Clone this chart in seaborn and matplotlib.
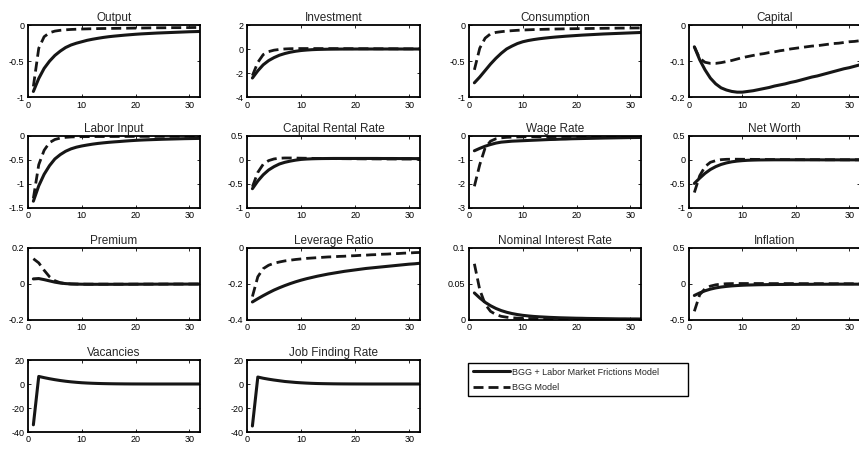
import matplotlib
matplotlib.use("Agg")
import matplotlib.pyplot as plt
import seaborn as sns
from matplotlib.ticker import FuncFormatter

# quarters after the shock
t = list(range(1, 33))

output_lmf = [-0.92, -0.74, -0.60, -0.50, -0.42, -0.36, -0.31, -0.275, -0.25, -0.23, -0.21, -0.195, -0.182, -0.17, -0.16, -0.152,
              -0.145, -0.138, -0.132, -0.126, -0.121, -0.117, -0.113, -0.109, -0.106, -0.103, -0.100, -0.097, -0.094, -0.091, -0.089, -0.087]
output_bgg = [-0.85, -0.32, -0.16, -0.105, -0.082, -0.071, -0.064, -0.059, -0.056, -0.053, -0.051, -0.049, -0.047, -0.046, -0.045, -0.044,
              -0.043, -0.042, -0.041, -0.040, -0.039, -0.038, -0.037, -0.036, -0.036, -0.035, -0.034, -0.034, -0.033, -0.033, -0.032, -0.032]

investment_lmf = [-2.4, -1.8, -1.3, -0.95, -0.70, -0.50, -0.36, -0.25, -0.17, -0.11, -0.07, -0.04, -0.02, -0.01, 0.0, 0.005,
                  0.01, 0.012, 0.014, 0.015, 0.016, 0.016, 0.017, 0.017, 0.017, 0.017, 0.017, 0.017, 0.016, 0.016, 0.016, 0.016]
investment_bgg = [-2.2, -1.1, -0.45, -0.2, -0.08, -0.02, 0.02, 0.04, 0.05, 0.055, 0.055, 0.055, 0.055, 0.05, 0.05, 0.05,
                  0.045, 0.045, 0.045, 0.04, 0.04, 0.04, 0.04, 0.035, 0.035, 0.035, 0.035, 0.03, 0.03, 0.03, 0.03, 0.03]

consumption_lmf = [-0.80, -0.72, -0.63, -0.54, -0.46, -0.39, -0.33, -0.29, -0.255, -0.23, -0.213, -0.2, -0.189, -0.18, -0.172, -0.165,
                   -0.159, -0.153, -0.148, -0.143, -0.138, -0.134, -0.13, -0.126, -0.122, -0.119, -0.116, -0.113, -0.11, -0.107, -0.104, -0.101]
consumption_bgg = [-0.62, -0.32, -0.18, -0.12, -0.10, -0.09, -0.082, -0.076, -0.071, -0.067, -0.064, -0.061, -0.059, -0.057, -0.055, -0.053,
                   -0.052, -0.05, -0.049, -0.048, -0.047, -0.046, -0.045, -0.044, -0.043, -0.042, -0.041, -0.04, -0.04, -0.039, -0.038, -0.038]

capital_lmf = [-0.06, -0.096, -0.124, -0.147, -0.163, -0.174, -0.18, -0.184, -0.186, -0.186, -0.184, -0.182, -0.179, -0.176, -0.173, -0.169,
               -0.166, -0.163, -0.159, -0.156, -0.152, -0.148, -0.144, -0.141, -0.137, -0.133, -0.129, -0.125, -0.121, -0.118, -0.114, -0.11]
capital_bgg = [-0.06, -0.092, -0.103, -0.106, -0.106, -0.104, -0.101, -0.098, -0.094, -0.09, -0.087, -0.084, -0.081, -0.079, -0.076, -0.074,
               -0.071, -0.069, -0.066, -0.064, -0.062, -0.06, -0.058, -0.057, -0.055, -0.053, -0.051, -0.05, -0.048, -0.046, -0.045, -0.043]

labor_lmf = [-1.36, -1.04, -0.80, -0.62, -0.48, -0.39, -0.32, -0.27, -0.235, -0.21, -0.19, -0.172, -0.157, -0.145, -0.134, -0.125,
             -0.117, -0.108, -0.1, -0.093, -0.087, -0.082, -0.078, -0.074, -0.07, -0.067, -0.064, -0.061, -0.058, -0.056, -0.054, -0.052]
labor_bgg = [-1.3, -0.6, -0.3, -0.14, -0.075, -0.045, -0.03, -0.022, -0.018, -0.016, -0.015, -0.014, -0.013, -0.013, -0.012, -0.012,
             -0.011, -0.011, -0.011, -0.01, -0.01, -0.01, -0.01, -0.009, -0.009, -0.009, -0.009, -0.008, -0.008, -0.008, -0.008, -0.008]

rental_lmf = [-0.6, -0.44, -0.31, -0.21, -0.14, -0.085, -0.05, -0.025, -0.005, 0.01, 0.018, 0.023, 0.026, 0.028, 0.029, 0.03,
              0.03, 0.03, 0.03, 0.03, 0.03, 0.03, 0.03, 0.03, 0.029, 0.029, 0.029, 0.028, 0.028, 0.028, 0.027, 0.027]
rental_bgg = [-0.56, -0.26, -0.09, -0.015, 0.02, 0.035, 0.04, 0.04, 0.038, 0.036, 0.034, 0.032, 0.03, 0.029, 0.028, 0.027,
              0.026, 0.025, 0.024, 0.023, 0.022, 0.021, 0.021, 0.02, 0.02, 0.019, 0.019, 0.018, 0.018, 0.018, 0.017, 0.017]

wage_lmf = [-0.62, -0.52, -0.43, -0.36, -0.30, -0.26, -0.24, -0.22, -0.21, -0.2, -0.19, -0.18, -0.17, -0.16, -0.15, -0.145,
            -0.135, -0.13, -0.12, -0.115, -0.11, -0.105, -0.1, -0.095, -0.09, -0.086, -0.082, -0.078, -0.074, -0.07, -0.067, -0.064]
wage_bgg = [-2.1, -1.2, -0.5, -0.22, -0.12, -0.08, -0.06, -0.05, -0.045, -0.04, -0.037, -0.035, -0.033, -0.031, -0.03, -0.028,
            -0.027, -0.026, -0.025, -0.024, -0.023, -0.022, -0.022, -0.021, -0.02, -0.02, -0.019, -0.019, -0.018, -0.018, -0.017, -0.017]

networth_lmf = [-0.49, -0.38, -0.28, -0.2, -0.14, -0.095, -0.063, -0.04, -0.025, -0.015, -0.008, -0.004, -0.001, 0.0, 0.001, 0.002,
                0.002, 0.002, 0.002, 0.002, 0.002, 0.002, 0.002, 0.002, 0.001, 0.001, 0.001, 0.001, 0.001, 0.001, 0.001, 0.001]
networth_bgg = [-0.68, -0.33, -0.14, -0.05, -0.015, 0.005, 0.012, 0.014, 0.014, 0.013, 0.012, 0.011, 0.01, 0.009, 0.008, 0.007,
                0.007, 0.006, 0.006, 0.005, 0.005, 0.004, 0.004, 0.004, 0.003, 0.003, 0.003, 0.003, 0.002, 0.002, 0.002, 0.002]

premium_lmf = [0.028, 0.03, 0.024, 0.017, 0.01, 0.005, 0.002, 0.0, -0.001, -0.0015, -0.002, -0.002, -0.002, -0.002, -0.002, -0.002,
               -0.002, -0.0018, -0.0017, -0.0016, -0.0015, -0.0014, -0.0013, -0.0012, -0.0011, -0.001, -0.001, -0.0009, -0.0009, -0.0008, -0.0008, -0.0007]
premium_bgg = [0.14, 0.117, 0.076, 0.04, 0.018, 0.007, 0.002, 0.0, -0.0005, -0.001, -0.001, -0.001, -0.001, -0.001, -0.001, -0.001,
               -0.001, -0.001, -0.001, -0.0009, -0.0009, -0.0008, -0.0008, -0.0007, -0.0007, -0.0006, -0.0006, -0.0005, -0.0005, -0.0005, -0.0004, -0.0004]

leverage_lmf = [-0.3, -0.282, -0.265, -0.249, -0.234, -0.221, -0.209, -0.198, -0.188, -0.179, -0.171, -0.164, -0.157, -0.151, -0.145, -0.14,
                -0.135, -0.13, -0.126, -0.122, -0.118, -0.114, -0.111, -0.108, -0.105, -0.102, -0.099, -0.096, -0.093, -0.09, -0.088, -0.085]
leverage_bgg = [-0.27, -0.16, -0.115, -0.096, -0.085, -0.078, -0.072, -0.068, -0.064, -0.061, -0.058, -0.056, -0.054, -0.052, -0.05, -0.049,
                -0.047, -0.046, -0.044, -0.043, -0.041, -0.04, -0.038, -0.037, -0.035, -0.034, -0.032, -0.031, -0.029, -0.028, -0.026, -0.025]

nominal_lmf = [0.0375, 0.0306, 0.0245, 0.0198, 0.016, 0.013, 0.0107, 0.0089, 0.0075, 0.0064, 0.0056, 0.0049, 0.0044, 0.004, 0.0036, 0.0033,
               0.003, 0.0028, 0.0026, 0.0024, 0.0023, 0.0021, 0.002, 0.0019, 0.0018, 0.0017, 0.0016, 0.0015, 0.0015, 0.0014, 0.0014, 0.0013]
nominal_bgg = [0.078, 0.042, 0.022, 0.012, 0.0075, 0.005, 0.0038, 0.003, 0.0025, 0.0022, 0.002, 0.0018, 0.0016, 0.0015, 0.0014, 0.0013,
               0.0012, 0.0011, 0.0011, 0.001, 0.001, 0.0009, 0.0009, 0.0009, 0.0008, 0.0008, 0.0008, 0.0007, 0.0007, 0.0007, 0.0007, 0.0006]

inflation_lmf = [-0.16, -0.125, -0.095, -0.072, -0.055, -0.043, -0.034, -0.027, -0.022, -0.018, -0.015, -0.013, -0.011, -0.01, -0.009, -0.008,
                 -0.007, -0.007, -0.006, -0.006, -0.005, -0.005, -0.005, -0.004, -0.004, -0.004, -0.004, -0.003, -0.003, -0.003, -0.003, -0.003]
inflation_bgg = [-0.38, -0.15, -0.065, -0.03, -0.012, -0.002, 0.003, 0.005, 0.006, 0.006, 0.006, 0.006, 0.006, 0.006, 0.005, 0.005,
                 0.005, 0.005, 0.005, 0.005, 0.004, 0.004, 0.004, 0.004, 0.004, 0.004, 0.003, 0.003, 0.003, 0.003, 0.003, 0.003]

vacancies_lmf = [-34, 6.3, 5.3, 4.4, 3.6, 2.9, 2.3, 1.8, 1.4, 1.05, 0.8, 0.6, 0.45, 0.33, 0.24, 0.17,
                 0.12, 0.08, 0.05, 0.03, 0.02, 0.01, 0.0, 0.0, 0.0, 0.0, 0.0, 0.0, 0.0, 0.0, 0.0, 0.0]
jobfinding_lmf = [-35, 5.8, 4.8, 4.0, 3.3, 2.7, 2.1, 1.7, 1.3, 1.0, 0.75, 0.55, 0.4, 0.3, 0.22, 0.15,
                  0.1, 0.07, 0.05, 0.03, 0.02, 0.01, 0.0, 0.0, 0.0, 0.0, 0.0, 0.0, 0.0, 0.0, 0.0, 0.0]

titles = ["Output", "Investment", "Consumption", "Capital",
          "Labor Input", "Capital Rental Rate", "Wage Rate", "Net Worth",
          "Premium", "Leverage Ratio", "Nominal Interest Rate", "Inflation",
          "Vacancies", "Job Finding Rate"]
series_lmf = [output_lmf, investment_lmf, consumption_lmf, capital_lmf,
              labor_lmf, rental_lmf, wage_lmf, networth_lmf,
              premium_lmf, leverage_lmf, nominal_lmf, inflation_lmf,
              vacancies_lmf, jobfinding_lmf]
series_bgg = [output_bgg, investment_bgg, consumption_bgg, capital_bgg,
              labor_bgg, rental_bgg, wage_bgg, networth_bgg,
              premium_bgg, leverage_bgg, nominal_bgg, inflation_bgg,
              None, None]
y_ticks = [[-1, -0.5, 0], [-4, -2, 0, 2], [-1, -0.5, 0], [-0.2, -0.1, 0],
           [-1.5, -1, -0.5, 0], [-1, -0.5, 0, 0.5], [-3, -2, -1, 0], [-1, -0.5, 0, 0.5],
           [-0.2, 0, 0.2], [-0.4, -0.2, 0], [0, 0.05, 0.1], [-0.5, 0, 0.5],
           [-40, -20, 0, 20], [-40, -20, 0, 20]]
legend_labels = ["BGG + Labor Market Frictions Model", "BGG Model"]

sns.set_style("ticks")
plt.rcParams['font.family'] = ['Liberation Sans', 'DejaVu Sans']
plt.rcParams['axes.unicode_minus'] = False

line_color = "#161616"
fig = plt.figure(figsize=(8.59, 4.5), dpi=100)

col_left = [28, 247, 469, 689]
col_width = [172, 173, 172, 171]
row_bottom = [0.784, 0.538, 0.289, 0.04]
fmt = FuncFormatter(lambda v, _: "0" if abs(v) < 1e-12 else f"{v:g}")

axes = []
for i, title in enumerate(titles):
    r, c = divmod(i, 4)
    ax = fig.add_axes([col_left[c] / 859, row_bottom[r], col_width[c] / 859, 0.16])
    sns.lineplot(x=t, y=series_lmf[i], ax=ax, color=line_color, lw=2.2, legend=False)
    if series_bgg[i] is not None:
        sns.lineplot(x=t, y=series_bgg[i], ax=ax, color=line_color, lw=2.0,
                     linestyle=(0, (3.6, 1.8)), legend=False)
    ax.set_xlim(0, 32)
    ax.set_ylim(y_ticks[i][0], y_ticks[i][-1])
    ax.set_xticks([0, 10, 20, 30])
    ax.set_yticks(y_ticks[i])
    ax.yaxis.set_major_formatter(fmt)
    ax.set_title(title, fontsize=8.5, pad=3)
    ax.tick_params(direction="in", length=2.5, width=0.6, top=True, right=True,
                   labelsize=6.5, pad=2.5, colors="black")
    for s in ax.spines.values():
        s.set_linewidth(1.3)
        s.set_color("black")
    axes.append(ax)

handles = axes[0].lines[:2]
leg = fig.legend(handles, legend_labels, loc="upper left",
                 bbox_to_anchor=(468 / 859, 1 - 396 / 450, 220 / 859, 33 / 450),
                 mode="expand", fancybox=False, edgecolor="black", framealpha=1,
                 fontsize=6.5, handlelength=4.2, handletextpad=0.2, labelspacing=0.7,
                 borderpad=0.5, borderaxespad=0)
leg.get_frame().set_linewidth(1.0)

fig.savefig("out.png", dpi=100)
